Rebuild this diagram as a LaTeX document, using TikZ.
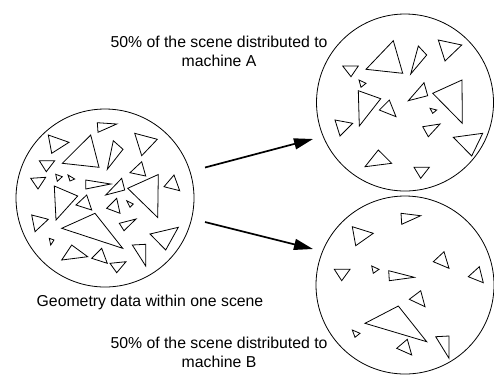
\documentclass[tikz,border=0pt]{standalone}
\usepackage{fontspec}
\setmainfont{Liberation Sans}
\usetikzlibrary{arrows.meta}
\tikzset{
  scene/.style={draw, circle, line width=0.8pt, inner sep=0pt},
  tri/.style={draw, line width=0.8pt, line join=miter},
  sendarrow/.style={line width=1.7pt, -{Triangle[length=19pt, width=11pt]}},
  caption/.style={align=center, inner sep=0pt,
                  font=\fontsize{15.8}{19.4}\selectfont},
}

\begin{document}
\begin{tikzpicture}[x=1pt, y=-1pt]
    \useasboundingbox (0,0) rectangle (494,376);
    % the three scenes
    \node[scene, minimum size=178pt] (whole) at (105,198) {};
    \node[scene, minimum size=177pt] (partA) at (405,102.5) {};
    \node[scene, minimum size=178pt] (partB) at (405,285) {};
    % labels
    \node[caption] (labelA) at (219,51.3) {50\% of the scene distributed to\\machine A};
    \node[caption, anchor=base] (labelW) at (150,306.5) {Geometry data within one scene};
    \node[caption] (labelB) at (219,352.3) {50\% of the scene distributed to\\machine B};
    % arrows
    \coordinate (fromA) at (205,167.5);
    \coordinate (toA) at (313,139);
    \coordinate (fromB) at (205,222);
    \coordinate (toB) at (313,249);
    \draw[sendarrow] (fromA) -- (toA);
    \draw[sendarrow] (fromB) -- (toB);
    % geometry of the whole scene
    \draw[tri] (97.3,122.7) -- (116.7,124) -- (98,132.3) -- cycle;
    \draw[tri] (48.3,135) -- (69,142.3) -- (51.7,153.3) -- cycle;
    \draw[tri] (90.7,135) -- (99,167.3) -- (62.3,163.3) -- cycle;
    \draw[tri] (113.3,140.7) -- (123,149.3) -- (107.3,169.3) -- cycle;
    \draw[tri] (134.7,133.3) -- (157.3,139.3) -- (141.7,155.7) -- cycle;
    \draw[tri] (39.3,160.7) -- (54.7,160.7) -- (46.3,171.7) -- cycle;
    \draw[tri] (130,172.7) -- (141.7,161.7) -- (145.7,176) -- cycle;
    \draw[tri] (30.7,178.3) -- (45.7,177.3) -- (38,189) -- cycle;
    \draw[tri] (55.7,174.3) -- (62.3,176.7) -- (57.3,181.3) -- cycle;
    \draw[tri] (68,175) -- (74.7,179) -- (70,181) -- cycle;
    \draw[tri] (85.7,180) -- (110.7,184) -- (85.7,189) -- cycle;
    \draw[tri] (121.7,178.3) -- (124.7,190) -- (105.7,195) -- cycle;
    \draw[tri] (127.7,188.3) -- (158.3,174.5) -- (157.7,217.5) -- cycle;
    \draw[tri] (164,186.7) -- (174,175) -- (179.7,190.7) -- cycle;
    \draw[tri] (54.3,186) -- (77.7,196) -- (56,220) -- cycle;
    \draw[tri] (76,205) -- (86.7,195) -- (91.7,210) -- cycle;
    \draw[tri] (106.7,208.3) -- (116.7,198.3) -- (120,213.3) -- cycle;
    \draw[tri] (126.7,200.7) -- (133.3,204) -- (130,207.3) -- cycle;
    \draw[tri] (119.3,223.3) -- (136,219) -- (124,230.7) -- cycle;
    \draw[tri] (31.7,215) -- (48.3,219.3) -- (35,231.7) -- cycle;
    \draw[tri] (61.7,228.3) -- (95,213.3) -- (122.7,248.3) -- cycle;
    \draw[tri] (150,234) -- (178.3,227.3) -- (165.7,250) -- cycle;
    \draw[tri] (49.3,238.3) -- (54,240) -- (50.7,245) -- cycle;
    \draw[tri] (61.7,260) -- (71.7,245) -- (87.7,256.7) -- cycle;
    \draw[tri] (91.7,258.3) -- (101.7,248.3) -- (107.3,263.3) -- cycle;
    \draw[tri] (110,263.3) -- (126,261.7) -- (116.7,272.7) -- cycle;
    \draw[tri] (132.3,245) -- (145.7,244.3) -- (145.7,266) -- cycle;
    % geometry sent to machine A
    \draw[tri] (366,69.3) -- (393.3,40.7) -- (402.7,73.3) -- cycle;
    \draw[tri] (418.3,46) -- (426.7,55) -- (410.7,74) -- cycle;
    \draw[tri] (438.3,40) -- (461.7,45) -- (445,61) -- cycle;
    \draw[tri] (342.7,66) -- (358.3,66) -- (351,76.7) -- cycle;
    \draw[tri] (359,80) -- (366,83.3) -- (361,87.3) -- cycle;
    \draw[tri] (358.3,90.7) -- (380.7,98.7) -- (359.3,126) -- cycle;
    \draw[tri] (379.3,110) -- (389.3,100) -- (396,116.7) -- cycle;
    \draw[tri] (408.3,100.7) -- (424,82.7) -- (427.7,95.7) -- cycle;
    \draw[tri] (432.7,93.3) -- (462,80) -- (462.3,123.3) -- cycle;
    \draw[tri] (430,108.3) -- (436.7,110) -- (432.7,113.3) -- cycle;
    \draw[tri] (335,120) -- (352.7,123.3) -- (340,136) -- cycle;
    \draw[tri] (422.7,126.7) -- (440,124) -- (428.3,136.7) -- cycle;
    \draw[tri] (453.3,137.3) -- (482.7,133.3) -- (471.7,156) -- cycle;
    \draw[tri] (365,166.7) -- (378.3,150) -- (391.7,163.3) -- cycle;
    \draw[tri] (414,167.3) -- (429.3,167.3) -- (420.7,178.3) -- cycle;
    % geometry sent to machine B
    \draw[tri] (401,213.3) -- (420.7,215.7) -- (401.7,224.3) -- cycle;
    \draw[tri] (352.3,226.7) -- (373.3,233.3) -- (355.7,245.7) -- cycle;
    \draw[tri] (433.3,261.7) -- (444,251.7) -- (449,268.3) -- cycle;
    \draw[tri] (468.3,276.7) -- (479.3,266.7) -- (483.3,282.7) -- cycle;
    \draw[tri] (334.3,269.3) -- (350,269.3) -- (341.7,280.7) -- cycle;
    \draw[tri] (371.7,266) -- (379,269.3) -- (373.3,273.3) -- cycle;
    \draw[tri] (388.7,270.7) -- (414.3,277.3) -- (389.3,280.7) -- cycle;
    \draw[tri] (409.3,299.3) -- (420.7,290.7) -- (425,306.7) -- cycle;
    \draw[tri] (365,323.3) -- (398.3,306) -- (426.7,341.7) -- cycle;
    \draw[tri] (352.3,330) -- (360,333.3) -- (355,337.3) -- cycle;
    \draw[tri] (396.7,348.3) -- (407.3,339.3) -- (411.7,355) -- cycle;
    \draw[tri] (435.7,336.7) -- (449,336) -- (449,358.3) -- cycle;
\end{tikzpicture}
\end{document}
